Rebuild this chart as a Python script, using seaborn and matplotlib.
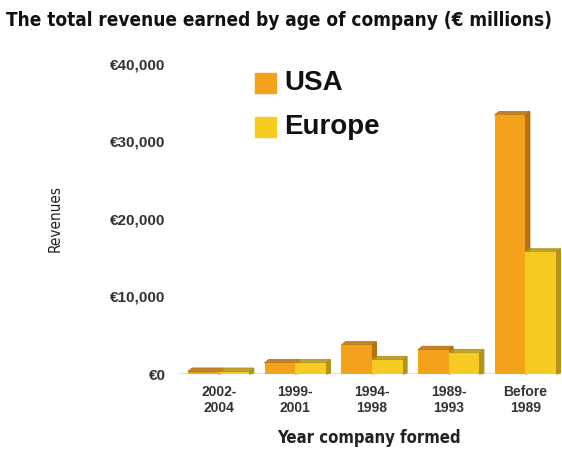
import matplotlib
matplotlib.use("Agg")
import matplotlib.pyplot as plt
from matplotlib.patches import Polygon
from matplotlib.ticker import FuncFormatter
import seaborn as sns
import pandas as pd

periods = ["2002-\n2004", "1999-\n2001", "1994-\n1998", "1989-\n1993", "Before\n1989"]
usa = [300, 1400, 3700, 3100, 33400]
europe = [300, 1400, 1800, 2700, 15700]
regions = ["USA", "Europe"]
colors = {"USA": "#F4A11C", "Europe": "#F6CB22"}
side_colors = {"USA": "#B8720C", "Europe": "#B49414"}

df = pd.DataFrame({
    "period": periods * 2,
    "region": ["USA"] * len(periods) + ["Europe"] * len(periods),
    "revenue": usa + europe,
})

sns.set_style("white")
plt.rcParams["font.family"] = ["Liberation Sans", "DejaVu Sans"]

fig = plt.figure(figsize=(5.62, 4.63), dpi=100)
ax = fig.add_axes([178 / 562, 1 - 374 / 463, (560 - 178) / 562, (374 - 64) / 463])

sns.barplot(data=df, x="period", y="revenue", hue="region", hue_order=regions,
            palette=colors, width=0.8, saturation=1, linewidth=0, ax=ax, legend=False)

# give each bar a shaded side and top for a raised look
dx, dy = 0.055, 450
for container, reg in zip(ax.containers, regions):
    for p in container.patches:
        x0, w, h = p.get_x(), p.get_width(), p.get_height()
        side = Polygon([(x0 + w, 0), (x0 + w + dx, dy * 0.3), (x0 + w + dx, h + dy),
                        (x0 + w, h)], closed=True, color=side_colors[reg],
                       zorder=p.get_zorder() - 0.1, clip_on=False)
        top = Polygon([(x0, h), (x0 + dx, h + dy), (x0 + w + dx, h + dy), (x0 + w, h)],
                      closed=True, color=side_colors[reg], alpha=0.85,
                      zorder=p.get_zorder() - 0.1, clip_on=False)
        ax.add_patch(side)
        ax.add_patch(top)
        p.set_clip_on(False)

ax.set_ylim(0, 40000)
ax.set_xlim(-0.53, 4.45)
ax.set_yticks([0, 10000, 20000, 30000, 40000])
ax.yaxis.set_major_formatter(FuncFormatter(lambda v, _: f"€{int(v):,}"))
ax.tick_params(axis="y", labelsize=11, pad=9, length=0)
ax.tick_params(axis="x", labelsize=10, pad=8, length=0)
for lbl in ax.get_yticklabels() + ax.get_xticklabels():
    lbl.set_fontweight("bold")
    lbl.set_color("#333333")
for s in ax.spines.values():
    s.set_visible(False)
ax.axhline(0, color="#F3E6B0", lw=1.5, zorder=0)

ax.set_xlabel("Year company formed", fontsize=12, fontweight="bold", labelpad=10,
              color="#222222", family="DejaVu Sans", fontstretch="condensed")
ax.set_ylabel("Revenues", fontsize=11, labelpad=34, color="#222222",
              family="DejaVu Sans", fontstretch="condensed")

# legend drawn as coloured squares with large labels
for i, reg in enumerate(regions):
    yy = 1 - (83 + 44 * i) / 463
    fig.patches.append(plt.Rectangle((255 / 562, yy - 10 / 463), 21 / 562, 20 / 463,
                                     transform=fig.transFigure, color=colors[reg]))
    fig.text(284 / 562, yy, reg, fontsize=20, fontweight="bold", va="center",
             color="#111111")

fig.text(0.497, 0.955, "The total revenue earned by age of company (€ millions)",
         ha="center", va="center", fontsize=13.6, fontweight="bold", color="#111111",
         family="DejaVu Sans", fontstretch="condensed")

fig.savefig("out.png", dpi=100, facecolor="white")
